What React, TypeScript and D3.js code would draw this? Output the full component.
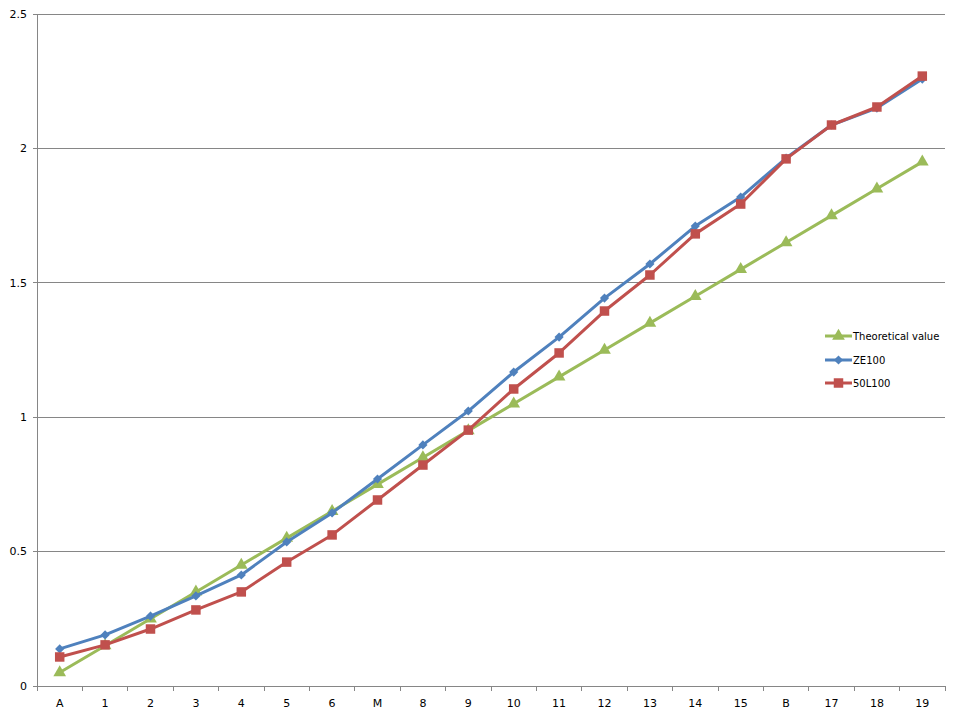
import React, { useEffect, useRef } from "react";
import * as d3 from "d3";

const categories = ["A", "1", "2", "3", "4", "5", "6", "M", "8", "9", "10", "11", "12", "13", "14", "15", "B", "17", "18", "19"];
const theoretical = [0.05, 0.15, 0.25, 0.35, 0.45, 0.55, 0.65, 0.75, 0.85, 0.95, 1.05, 1.15, 1.25, 1.35, 1.45, 1.55, 1.65, 1.75, 1.85, 1.95];
const ze100 = [0.138, 0.19, 0.26, 0.335, 0.413, 0.536, 0.644, 0.77, 0.897, 1.023, 1.168, 1.298, 1.443, 1.57, 1.711, 1.819, 1.964, 2.087, 2.15, 2.258];
const l50100 = [0.108, 0.153, 0.212, 0.283, 0.35, 0.461, 0.562, 0.692, 0.822, 0.952, 1.105, 1.239, 1.395, 1.529, 1.682, 1.793, 1.961, 2.087, 2.154, 2.269];
const yTicks = [0, 0.5, 1, 1.5, 2, 2.5];

const series = [
  { name: "Theoretical value", values: theoretical, color: "#9BBB59", marker: "triangle" },
  { name: "ZE100", values: ze100, color: "#4F81BD", marker: "diamond" },
  { name: "50L100", values: l50100, color: "#C0504D", marker: "square" },
];

const W = 960, H = 720;
const left = 37, right = 945, top = 14, bottom = 686;
const FONT = "DejaVu Sans, Tahoma, sans-serif";
const AXIS = "#868686";

function markerPath(kind: string) {
  if (kind === "triangle") return d3.symbol().type(d3.symbolTriangle).size(70)()!;
  if (kind === "diamond") return "M0,-4.6L4.6,0L0,4.6L-4.6,0Z";
  return d3.symbol().type(d3.symbolSquare).size(90)()!;
}

export default function App() {
  const ref = useRef<SVGSVGElement>(null);
  useEffect(() => {
    const svg = d3.select(ref.current);
    svg.selectAll("*").remove();
    const x = d3.scaleBand().domain(categories).range([left, right]);
    const y = d3.scaleLinear().domain([0, 2.5]).range([bottom, top]);

    svg.append("g").selectAll("line").data(yTicks).join("line")
      .attr("x1", left - 4).attr("x2", right)
      .attr("y1", (d) => y(d)).attr("y2", (d) => y(d))
      .attr("stroke", AXIS).attr("stroke-width", 1).attr("shape-rendering", "crispEdges");
    svg.append("line").attr("x1", left).attr("x2", left).attr("y1", top).attr("y2", bottom)
      .attr("stroke", AXIS).attr("shape-rendering", "crispEdges");
    svg.append("g").selectAll("text").data(yTicks).join("text")
      .attr("x", left - 10).attr("y", (d) => y(d)).attr("dy", "0.35em")
      .attr("text-anchor", "end").attr("font-family", FONT).attr("font-size", 11).attr("fill", "#000")
      .text((d) => String(d));
    const bounds = categories.map((c) => x(c)!).concat([right]);
    svg.append("g").selectAll("line").data(bounds).join("line")
      .attr("x1", (d) => d).attr("x2", (d) => d).attr("y1", bottom).attr("y2", bottom + 5)
      .attr("stroke", AXIS).attr("shape-rendering", "crispEdges");
    svg.append("g").selectAll("text").data(categories).join("text")
      .attr("x", (d) => x(d)! + x.bandwidth() / 2).attr("y", bottom + 21)
      .attr("text-anchor", "middle").attr("font-family", FONT).attr("font-size", 11).attr("fill", "#000")
      .text((d) => d);

    const cx = (i: number) => x(categories[i])! + x.bandwidth() / 2;
    for (const s of series) {
      const line = d3.line<number>().x((_, i) => cx(i)).y((d) => y(d));
      svg.append("path").attr("d", line(s.values)!).attr("fill", "none")
        .attr("stroke", s.color).attr("stroke-width", 3).attr("stroke-linejoin", "round");
      svg.append("g").selectAll("path").data(s.values).join("path")
        .attr("d", markerPath(s.marker))
        .attr("transform", (d, i) => `translate(${cx(i)},${y(d)})`)
        .attr("fill", s.color);
    }

    const legY = [336, 360, 383];
    series.forEach((s, i) => {
      const g = svg.append("g").attr("transform", `translate(0,${legY[i]})`);
      g.append("line").attr("x1", 825).attr("x2", 852).attr("y1", 0).attr("y2", 0)
        .attr("stroke", s.color).attr("stroke-width", 3);
      g.append("path").attr("d", markerPath(s.marker)).attr("transform", "translate(838.5,0)").attr("fill", s.color);
      g.append("text").attr("x", 853).attr("y", 0).attr("dy", "0.35em")
        .attr("font-family", FONT).attr("font-size", 10).attr("fill", "#000").text(s.name);
    });
  }, []);
  return (
    <svg ref={ref} width={W} height={H} style={{ position: "absolute", left: 0, top: 0, background: "#fff" }} />
  );
}
